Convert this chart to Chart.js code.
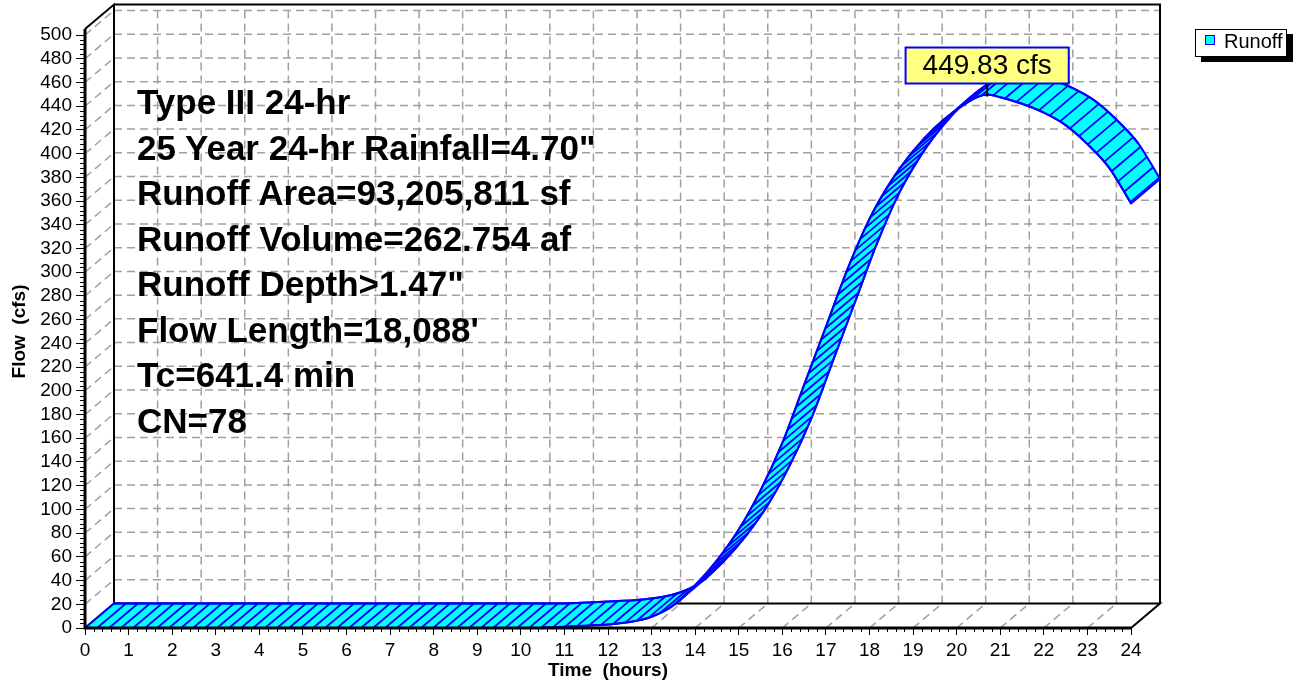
<!DOCTYPE html>
<html><head><meta charset="utf-8">
<script src="https://cdn.jsdelivr.net/npm/chart.js@4.4.1/dist/chart.umd.min.js"></script>
<style>
html,body{margin:0;padding:0;background:#fff;}
#wrap{position:relative;width:1294px;height:686px;overflow:hidden;font-family:"Liberation Sans",Arial,sans-serif;}
canvas{position:absolute;left:0;top:0;}
#info{position:absolute;left:137px;top:79px;font-weight:bold;font-size:35px;line-height:45.5px;color:#000;white-space:nowrap;}
#legend{position:absolute;left:1195px;top:29px;width:90px;height:26px;border:1px solid #000;background:#fff;box-shadow:6px 5px 0 #000;font-size:20px;color:#000;}
#legend .sw{position:absolute;left:9px;top:5px;width:8px;height:8px;background:#00ffff;border:1px solid #0000ff;}
#legend .lb{position:absolute;left:28px;top:0px;line-height:22px;white-space:nowrap;}
</style></head>
<body>
<div id="wrap">
<canvas id="c" width="1294" height="686"></canvas>
<div id="info"></div>
<div id="legend"><div class="sw"></div><div class="lb"></div></div>
</div>
<script>
// ---------- data ----------
const hours = [0,0.5,1,1.5,2,2.5,3,3.5,4,4.5,5,5.5,6,6.5,7,7.5,8,8.5,9,9.5,10,
  10.5,11,11.5,12,12.5,13,13.5,14,14.5,15,15.5,16,16.5,17,17.5,18,18.5,19,19.5,20,20.5,20.7,
  21,21.5,22,22.5,23,23.5,24];
const runoffCfs = [0,0,0,0,0,0,0,0,0,0,0,0,0,0,0,0,0,0,0,0,0,
  0.3,1,2,3,5,9.5,19,36,57,83,116,156,205,254,303,345,377,402,422,437,448,449.83,
  447.5,442,434.5,424,408,388,358];
const seriesName = 'Runoff';
const peakHour = 20.7;
const peakCfs = 449.83;
const peakLabel = '449.83 cfs';
const infoLines = ['Type III 24-hr', '25 Year 24-hr Rainfall=4.70"', 'Runoff Area=93,205,811 sf',
  'Runoff Volume=262.754 af', 'Runoff Depth>1.47"', "Flow Length=18,088'", 'Tc=641.4 min', 'CN=78'];
const xTitle = 'Time  (hours)';
const yTitle = 'Flow  (cfs)';

// ---------- layout constants ----------
const X_MIN = 0, X_MAX = 24, Y_MIN = 0, Y_MAX = 500, Y_BOX = 505;
const DEPTH_T = 29 * 24 / 1046;     // 29 px of depth expressed in hours
const DEPTH_V = 24.5 * 500 / 593;   // 24.5 px of depth expressed in cfs
const HATCH_STEP = 12;              // px of arc length between hatch strokes
const BLUE = '#0000ff', CYAN = '#00ffff', GRID = '#a0a0a0';

document.getElementById('info').innerHTML = infoLines.map(s => '<div>' + s.replace(/&/g,'&amp;').replace(/</g,'&lt;').replace(/>/g,'&gt;') + '</div>').join('');
document.querySelector('#legend .lb').textContent = seriesName;

Chart.defaults.font.family = '"Liberation Sans", Arial, sans-serif';
Chart.defaults.color = '#000';

const pts = hours.map((h, i) => ({x: h, y: runoffCfs[i]}));

function trace(ctx, p, reverse, move) {
  const n = p.length;
  if (!reverse) {
    if (move) ctx.moveTo(p[0].x, p[0].y); else ctx.lineTo(p[0].x, p[0].y);
    for (let i = 1; i < n; i++) {
      const a = p[i-1], b = p[i];
      if (a.cp2x !== undefined && b.cp1x !== undefined) ctx.bezierCurveTo(a.cp2x, a.cp2y, b.cp1x, b.cp1y, b.x, b.y);
      else ctx.lineTo(b.x, b.y);
    }
  } else {
    if (move) ctx.moveTo(p[n-1].x, p[n-1].y); else ctx.lineTo(p[n-1].x, p[n-1].y);
    for (let i = n - 1; i > 0; i--) {
      const a = p[i], b = p[i-1];
      if (a.cp1x !== undefined && b.cp2x !== undefined) ctx.bezierCurveTo(a.cp1x, a.cp1y, b.cp2x, b.cp2y, b.x, b.y);
      else ctx.lineTo(b.x, b.y);
    }
  }
}
// dense pixel samples of the drawn front edge
function samples(p) {
  const out = [{x: p[0].x, y: p[0].y}];
  for (let i = 1; i < p.length; i++) {
    const a = p[i-1], b = p[i];
    const bez = a.cp2x !== undefined && b.cp1x !== undefined;
    for (let k = 1; k <= 24; k++) {
      const t = k / 24, u = 1 - t;
      if (bez) {
        out.push({x: u*u*u*a.x + 3*u*u*t*a.cp2x + 3*u*t*t*b.cp1x + t*t*t*b.x,
                  y: u*u*u*a.y + 3*u*u*t*a.cp2y + 3*u*t*t*b.cp1y + t*t*t*b.y});
      } else {
        out.push({x: a.x + (b.x - a.x) * t, y: a.y + (b.y - a.y) * t});
      }
    }
  }
  return out;
}

const threeD = {
  id: 'threeD',
  beforeDatasetsDraw(chart) {
    const {ctx, scales: {x, y, xb, yb}} = chart;
    const dx = xb.getPixelForValue(0) - x.getPixelForValue(0);
    const dy = yb.getPixelForValue(0) - y.getPixelForValue(0);
    const xL = x.getPixelForValue(X_MIN), xR = x.getPixelForValue(X_MAX);
    const yF = y.getPixelForValue(Y_MIN), yT = y.getPixelForValue(Y_BOX);
    ctx.save();
    // back wall grid + wall/floor diagonals
    ctx.strokeStyle = GRID; ctx.lineWidth = 1.5; ctx.setLineDash([8, 5]);
    ctx.beginPath();
    const bx0 = xb.getPixelForValue(X_MIN), bx1 = xb.getPixelForValue(X_MAX);
    const by0 = yb.getPixelForValue(Y_MIN), by1 = yb.getPixelForValue(Y_MAX);
    for (let v = 20; v <= Y_MAX; v += 20) {
      const py = yb.getPixelForValue(v);
      ctx.moveTo(bx0, py); ctx.lineTo(bx1, py);
      const fy = y.getPixelForValue(v);
      ctx.moveTo(xL, fy); ctx.lineTo(xL + dx, fy + dy);
    }
    for (let t = 1; t < X_MAX; t++) {
      const px = xb.getPixelForValue(t);
      ctx.moveTo(px, by0); ctx.lineTo(px, by1);
      const fx = x.getPixelForValue(t);
      ctx.moveTo(fx, yF); ctx.lineTo(fx + dx, yF + dy);
    }
    ctx.stroke();
    // box frame
    ctx.setLineDash([]); ctx.strokeStyle = '#000'; ctx.lineWidth = 2;
    ctx.beginPath();
    ctx.moveTo(xL, yF); ctx.lineTo(xL + dx, yF + dy); ctx.lineTo(xR + dx, yF + dy); ctx.lineTo(xR, yF);
    ctx.moveTo(xL, yT); ctx.lineTo(xL + dx, yT + dy); ctx.lineTo(xL + dx, yF + dy);
    ctx.moveTo(xL + dx, yT + dy); ctx.lineTo(xR + dx, yT + dy); ctx.lineTo(xR + dx, yF + dy);
    ctx.stroke();

    // ribbon
    const mf = chart.getDatasetMeta(0), mb = chart.getDatasetMeta(1);
    [mf, mb].forEach(m => { if (m.dataset && m.dataset.updateControlPoints) m.dataset.updateControlPoints(chart.chartArea, 'x'); });
    const pf = mf.data, pb = mb.data;
    const ribbon = () => { ctx.beginPath(); trace(ctx, pf, false, true); trace(ctx, pb, true, false); ctx.closePath(); };
    ribbon();
    ctx.fillStyle = CYAN; ctx.fill('nonzero');
    // hatch: depth strokes spaced evenly along the front edge
    const s = samples(pf);
    ctx.strokeStyle = BLUE; ctx.lineWidth = 1.8;
    ctx.beginPath();
    let acc = 0, next = HATCH_STEP;
    for (let i = 1; i < s.length; i++) {
      const a = s[i-1], b = s[i];
      const d = Math.hypot(b.x - a.x, b.y - a.y);
      while (acc + d >= next && d > 0) {
        const f = (next - acc) / d;
        const hx = a.x + (b.x - a.x) * f, hy = a.y + (b.y - a.y) * f;
        ctx.moveTo(hx, hy); ctx.lineTo(hx + dx, hy + dy);
        next += HATCH_STEP;
      }
      acc += d;
    }
    ctx.stroke();
    ribbon();
    ctx.strokeStyle = BLUE; ctx.lineWidth = 2; ctx.lineJoin = 'round'; ctx.stroke();
    ctx.restore();
  },
  afterDatasetsDraw(chart) {
    const {ctx, scales: {x, y}} = chart;
    const xL = x.getPixelForValue(X_MIN), xR = x.getPixelForValue(X_MAX);
    const yF = y.getPixelForValue(Y_MIN), yT = y.getPixelForValue(Y_BOX);
    ctx.save();
    ctx.strokeStyle = '#000';
    // minor ticks
    ctx.lineWidth = 1; ctx.beginPath();
    for (let v = 4; v < Y_MAX; v += 4) {
      if (v % 20 === 0) continue;
      const py = Math.round(y.getPixelForValue(v)) + 0.5;
      ctx.moveTo(xL - 5, py); ctx.lineTo(xL, py);
    }
    for (let k = 1; k < X_MAX * 5; k++) {
      if (k % 5 === 0) continue;
      const px = Math.round(x.getPixelForValue(k / 5)) + 0.5;
      ctx.moveTo(px, yF); ctx.lineTo(px, yF + 4);
    }
    ctx.stroke();
    // front axes
    ctx.lineWidth = 3; ctx.beginPath();
    ctx.moveTo(xL, yT); ctx.lineTo(xL, yF + 1.5);
    ctx.moveTo(xL - 1.5, yF); ctx.lineTo(xR, yF);
    ctx.stroke();
    // peak marker + label
    const px = x.getPixelForValue(peakHour), py = y.getPixelForValue(peakCfs);
    ctx.lineWidth = 2; ctx.beginPath();
    ctx.moveTo(px, py + 2); ctx.lineTo(px, py - 11); ctx.stroke();
    ctx.font = '28px "Liberation Sans", Arial, sans-serif';
    const tw = ctx.measureText(peakLabel).width;
    const bw = tw + 34, bh = 36;
    const bx = px - bw / 2, byy = py - 11 - bh;
    ctx.fillStyle = '#ffff80'; ctx.fillRect(bx, byy, bw, bh);
    ctx.strokeStyle = BLUE; ctx.lineWidth = 2; ctx.strokeRect(bx, byy, bw, bh);
    ctx.fillStyle = '#000'; ctx.textAlign = 'center'; ctx.textBaseline = 'middle';
    ctx.fillText(peakLabel, px, byy + bh / 2 + 1);
    ctx.restore();
  }
};

new Chart(document.getElementById('c'), {
  type: 'line',
  data: {
    datasets: [
      {label: seriesName, data: pts, xAxisID: 'x', yAxisID: 'y', borderColor: BLUE, borderWidth: 2,
       pointRadius: 0, fill: false, cubicInterpolationMode: 'monotone', capBezierPoints: false, clip: false},
      {label: seriesName + ' (depth)', data: pts, xAxisID: 'xb', yAxisID: 'yb', borderColor: BLUE, borderWidth: 2,
       pointRadius: 0, fill: false, cubicInterpolationMode: 'monotone', capBezierPoints: false, clip: false}
    ]
  },
  options: {
    responsive: false, animation: false, devicePixelRatio: 1,
    layout: {padding: {left: 0, right: 163, top: 35, bottom: 0}},
    plugins: {legend: {display: false}, tooltip: {enabled: false}},
    scales: {
      x: {type: 'linear', axis: 'x', position: 'bottom', min: X_MIN, max: X_MAX,
        ticks: {stepSize: 1, autoSkip: false, maxRotation: 0, padding: 4, color: '#000', font: {size: 19}},
        grid: {drawOnChartArea: false, drawTicks: true, tickLength: 7, color: '#000', lineWidth: 1},
        border: {display: false},
        title: {display: true, text: xTitle, color: '#000', font: {size: 19, weight: 'bold'}, padding: 4},
        afterFit(s) { s.height = 58; }},
      y: {type: 'linear', axis: 'y', position: 'left', min: Y_MIN, max: Y_MAX,
        ticks: {stepSize: 20, autoSkip: false, padding: 4, color: '#000', font: {size: 19}},
        grid: {drawOnChartArea: false, drawTicks: true, tickLength: 9, color: '#000', lineWidth: 1},
        border: {display: false},
        title: {display: true, text: yTitle, color: '#000', font: {size: 19, weight: 'bold'}, padding: 8},
        afterFit(s) { s.width = 85; }},
      xb: {type: 'linear', axis: 'x', position: 'bottom', display: false, min: X_MIN - DEPTH_T, max: X_MAX - DEPTH_T},
      yb: {type: 'linear', axis: 'y', position: 'left', display: false, min: Y_MIN - DEPTH_V, max: Y_MAX - DEPTH_V}
    }
  },
  plugins: [threeD]
});
</script>
</body></html>
